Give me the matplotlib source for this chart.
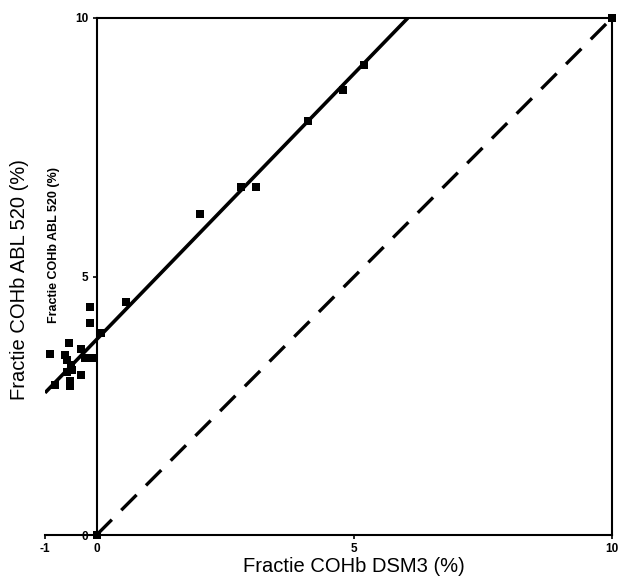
import matplotlib
matplotlib.use("Agg")
import matplotlib.pyplot as plt
import numpy as np

plt.rcParams['font.family'] = ['Liberation Sans', 'DejaVu Sans']

# Data
dsm3 = [-0.12, -0.12, 0.08, -0.54, -0.91, -0.62, -0.31, -0.58, -0.50, -0.23, -0.08,
        -0.47, -0.58, -0.31, -0.81, -0.52, -0.52, 0.58, 2.0, 2.81, 3.10, 4.11, 4.79,
        5.19, 10.0, 0.0]
abl520 = [4.41, 4.10, 3.91, 3.71, 3.50, 3.48, 3.60, 3.38, 3.29, 3.42, 3.42,
          3.19, 3.15, 3.09, 2.90, 2.98, 2.88, 4.51, 6.21, 6.73, 6.73, 8.01, 8.61,
          9.09, 10.0, 0.0]
fit_slope = 1.03
fit_intercept = 3.78
xticks = [-1, 0, 5, 10]
yticks = [0, 5, 10]

W, H = 621, 578
fig = plt.figure(figsize=(W / 100, H / 100), dpi=100)
ax = fig.add_axes([45 / W, 1 - 535 / H, (612 - 45) / W, (535 - 18) / H])
ax.set_xlim(-1, 10)
ax.set_ylim(0, 10)

# regression line
xf = np.array([-1, (10 - fit_intercept) / fit_slope])
ax.plot(xf, fit_slope * xf + fit_intercept, color='black', lw=2.6, solid_capstyle='butt', zorder=3)
# identity line
xi = np.array([0, 10])
ax.plot(xi, xi, color='black', lw=2.4, linestyle=(0, (6.5, 4)), zorder=3)

ax.plot(dsm3, abl520, linestyle='none', marker='s', markersize=5.8, color='black',
        markeredgewidth=0, clip_on=False, zorder=4)

# spines: box from x=0..10, bottom axis extends to -1
ax.spines['left'].set_position(('data', 0))
ax.spines['top'].set_bounds(0, 10)
ax.spines['bottom'].set_bounds(-1, 10)
for s in ax.spines.values():
    s.set_linewidth(1.5)
    s.set_color('black')

ax.set_xticks(xticks)
ax.set_yticks(yticks)
ax.set_xticklabels([str(t) for t in xticks], fontweight='bold', fontsize=8.5)
ax.set_yticklabels([str(t) for t in yticks], fontweight='bold', fontsize=8.5)
ax.tick_params(axis='both', length=3, width=1.2, direction='out', pad=3)

fig.text(354 / W, 1 - 566 / H, 'Fractie COHb DSM3 (%)', ha='center', va='center', fontsize=14.5)
fig.text(20 / W, 1 - 280 / H, 'Fractie COHb ABL 520 (%)', ha='center', va='center',
         rotation=90, fontsize=14.5)
fig.text(54 / W, 1 - 245 / H, 'Fractie COHb ABL 520 (%)', ha='center', va='center',
         rotation=90, fontsize=9, fontweight='bold')

fig.savefig('out.png', dpi=100)
